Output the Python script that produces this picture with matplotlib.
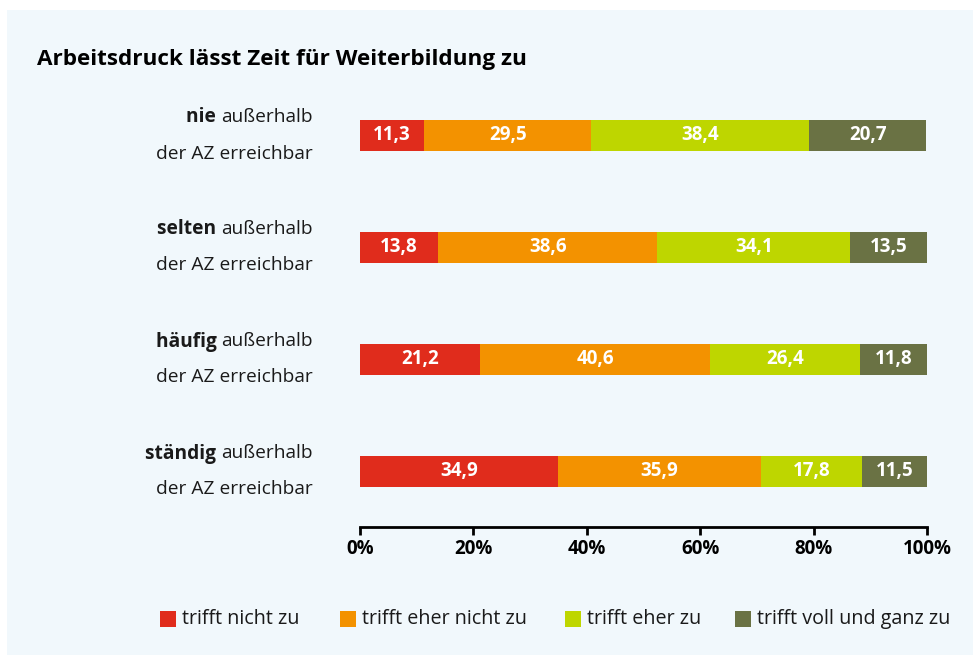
import matplotlib
matplotlib.use("Agg")
import matplotlib.pyplot as plt
from matplotlib.patches import Rectangle

# Data
groups_bold = ["nie", "selten", "häufig", "ständig"]
group_rest = "außerhalb"
group_line2 = "der AZ erreichbar"
series_names = ["trifft nicht zu", "trifft eher nicht zu", "trifft eher zu", "trifft voll und ganz zu"]
values = [
    [11.3, 29.5, 38.4, 20.7],
    [13.8, 38.6, 34.1, 13.5],
    [21.2, 40.6, 26.4, 11.8],
    [34.9, 35.9, 17.8, 11.5],
]
colors = ["#e02c1c", "#f39200", "#bed600", "#6a7244"]
xticks = [0, 20, 40, 60, 80, 100]
xtick_labels = ["0%", "20%", "40%", "60%", "80%", "100%"]
title = "Arbeitsdruck lässt Zeit für Weiterbildung zu"

FONT = "Open Sans"
TXT = "#1a1a1a"
W, H = 973, 655
fig = plt.figure(figsize=(W / 100, H / 100), dpi=100)
fig.patch.set_facecolor("white")

# light panel behind everything
fig.patches.append(Rectangle((7 / W, 0), 1 - 7 / W, 1 - 10 / H, transform=fig.transFigure,
                             facecolor="#f1f8fc", edgecolor="none", zorder=-10))

ax = fig.add_axes([360 / W, 1 - 527 / H, 567 / W, 447.5 / H])
ax.set_facecolor("none")

for i, row in enumerate(values):
    left = 0
    for j, v in enumerate(row):
        ax.barh(i, v, left=left, height=31 / 112, color=colors[j], edgecolor="none")
        ax.text(left + v / 2, i, f"{v:.1f}".replace(".", ","), ha="center", va="center",
                color="white", fontsize=13.5, fontweight="bold", family=FONT)
        left += v

ax.set_xlim(0, 100)
ax.set_ylim(3.5, -0.5)
for s in ["top", "right", "left"]:
    ax.spines[s].set_visible(False)
ax.spines["bottom"].set_linewidth(2)
ax.spines["bottom"].set_color("black")
ax.set_yticks([])
ax.set_xticks(xticks)
ax.set_xticklabels(xtick_labels, fontsize=13.5, fontweight="bold", family=FONT)
ax.tick_params(axis="x", length=6, width=2, pad=3)

# row labels: bold keyword + regular text, second line below
for i, b in enumerate(groups_bold):
    yc = 1 - (135.5 + 112 * i) / H
    t1 = fig.text(313 / W, yc + 18 / H, group_rest, ha="right", va="center",
                  fontsize=13.8, family=FONT, color=TXT)
    ax.annotate(b + " ", xy=(0, 0.5), xycoords=t1, ha="right", va="center",
                fontsize=13.8, fontweight="bold", family=FONT, color=TXT)
    fig.text(313 / W, yc - 18 / H, group_line2, ha="right", va="center",
             fontsize=13.8, family=FONT, color=TXT)

fig.text(37 / W, 1 - 59 / H, title, ha="left", va="center", fontsize=16.2,
         fontweight="bold", family=FONT, color="black")

# legend
leg_x = [160, 340, 565, 735]
for x, name, c in zip(leg_x, series_names, colors):
    fig.patches.append(Rectangle((x / W, 1 - 627 / H), 16 / W, 16 / H, transform=fig.transFigure,
                                 facecolor=c, edgecolor="none"))
    fig.text((x + 22) / W, 1 - 619 / H, name, ha="left", va="center", fontsize=14.2,
             family=FONT, color=TXT)

fig.savefig("out.png", dpi=100)
